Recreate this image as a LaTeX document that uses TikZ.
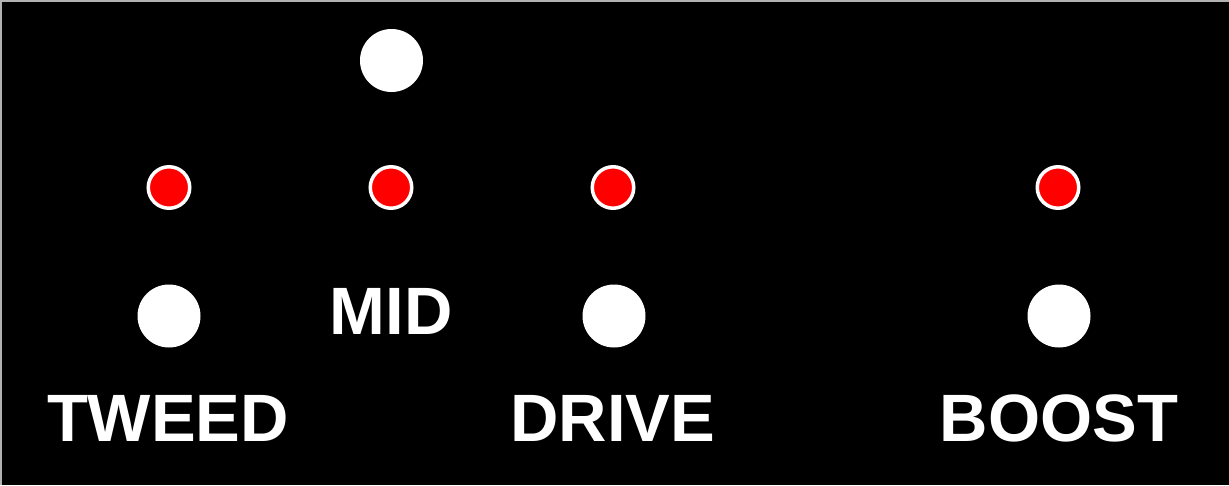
\documentclass[tikz,border=0pt]{standalone}
\usepackage{fontspec}
\setmainfont{Liberation Sans}
\begin{document}
\begin{tikzpicture}[x=1pt,y=-1pt,
  knob/.style={circle,fill=white,draw=none,minimum size=63pt,inner sep=0pt},
  led/.style={circle,fill=red,draw=white,line width=3.5pt,minimum size=41.5pt,inner sep=0pt},
  lbl/.style={text=white,font=\fontsize{67}{67}\selectfont\bfseries,anchor=base,inner sep=0pt}]
\useasboundingbox (0,0) rectangle (1229,485);
\fill[black] (0,0) rectangle (1229,485);
\draw[gray!60,line width=2pt] (1,485) -- (1,1) -- (1229,1);
\node[knob] (top) at (391.5,60.5) {};
\node[led] (l1) at (169,187.5) {};
\node[led] (l2) at (391,187.5) {};
\node[led] (l3) at (613,187.5) {};
\node[led] (l4) at (1058,187.5) {};
\node[knob] (k1) at (169,316) {};
\node[knob] (k3) at (614,316) {};
\node[knob] (k4) at (1059,316) {};
\node[lbl] (mid) at (391,334) {MID};
\node[lbl] (tweed) at (168,441) {TWEED};
\node[lbl] (drive) at (613,441) {DRIVE};
\node[lbl] (boost) at (1059,441) {BOOST};
\end{tikzpicture}
\end{document}
